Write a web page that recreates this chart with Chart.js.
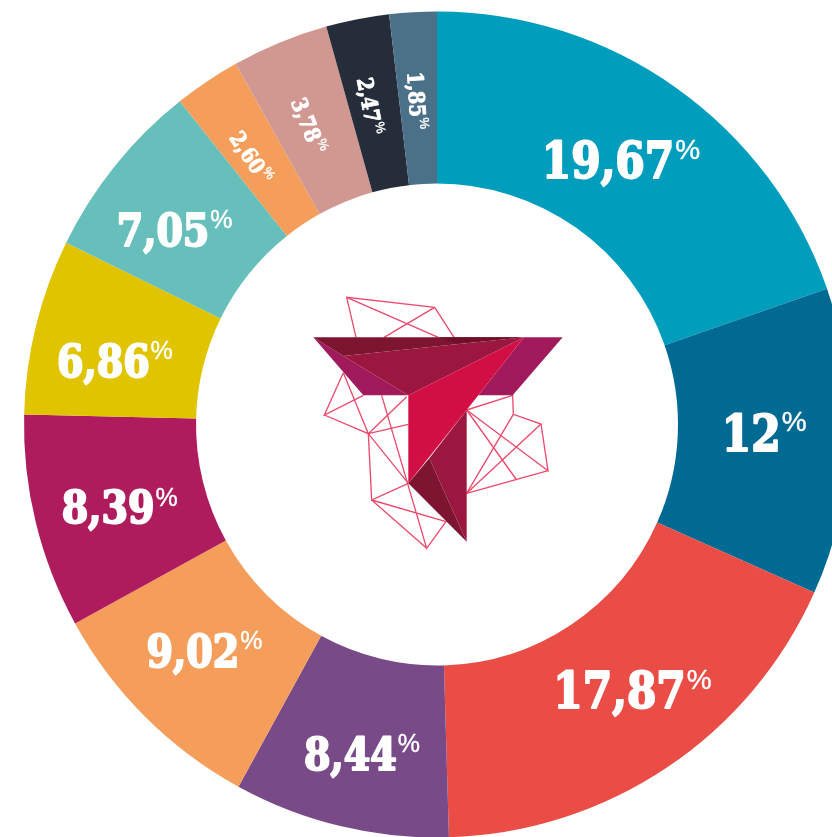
<!DOCTYPE html>
<html>
<head>
<meta charset="utf-8">
<title>Donut</title>
<script src="https://cdn.jsdelivr.net/npm/chart.js@4"></script>
<style>
  html, body { margin: 0; padding: 0; background: #fff; width: 832px; height: 837px; overflow: hidden; }
  #wrap { position: relative; width: 832px; height: 837px; overflow: hidden; }
  #chart { position: absolute; left: 0; top: 0; }
  #logo { position: absolute; left: 300px; top: 280px; width: 280px; height: 280px; }
  #logo polyline { fill: none; stroke: #ea4a6c; stroke-width: 4; }
</style>
</head>
<body>
<div id="wrap">
  <canvas id="chart" width="874" height="849"></canvas>
  <svg id="logo" viewBox="0 0 840 840">
    <polyline points="168,172 140,52 404,82 462,172"/>
    <polyline points="140,52 415,172"/>
    <polyline points="404,82 252,172"/>
    <polyline points="130,278 73,405 190,346"/>
    <polyline points="73,405 205,461 130,278"/>
    <polyline points="205,461 325,433"/>
    <polyline points="205,461 320,350"/>
    <polyline points="245,346 380,805 438,725 215,660 380,805"/>
    <polyline points="325,610 205,461 215,660 325,610"/>
    <polyline points="500,390 638,346 640,403 723,432 744,572 500,390"/>
    <polyline points="744,572 500,640 723,432"/>
    <polyline points="640,403 500,640"/>
    <polyline points="500,390 650,600"/>
    <polygon fill="#a01a5c" points="672,172 788,172 638,346 535,346"/>
    <polygon fill="#a01a5c" points="40,172 190,346 325,346 130,228"/>
    <polygon fill="#7d1430" points="40,172 672,172 130,228"/>
    <polygon fill="#6f1029" points="415,172 672,172 470,190"/>
    <polygon fill="#9b173f" points="130,228 672,172 325,346"/>
    <polygon fill="#d20f45" points="672,172 325,346 325,610 500,390"/>
    <polygon fill="#7d1430" points="388,535 325,610 500,785"/>
    <polygon fill="#9b173f" points="500,390 388,535 500,785"/>
  </svg>
</div>
<script>
const categories = ['19,67', '12', '17,87', '8,44', '9,02', '8,39', '6,86', '7,05', '2,60', '3,78', '2,47', '1,85'];
const values = [19.67, 12, 17.87, 8.44, 9.02, 8.39, 6.86, 7.05, 2.60, 3.78, 2.47, 1.85];
const colors = ['#009dbd', '#006a93', '#ea4c46', '#784a87', '#f59d5a', '#ae1c5e',
                '#e0c400', '#66bfbb', '#f59d5a', '#d19892', '#252c3a', '#4b7189'];

// the labels do not sit exactly on the slice centre in the original
const labelNudgeX = [-6, 0, 13, 1, -2, 0, -5, -8, -4, -4, -4, -1];
const labelNudgeY = [2, -6, -6, 11, -5, 5, 14, 10, 4, 3, 2, 2];

// numbers with a small raised percent sign, small slices get theirs turned along the radius
const sliceLabels = {
  id: 'sliceLabels',
  afterDatasetsDraw(chart) {
    const ctx = chart.ctx;
    chart.getDatasetMeta(0).data.forEach((arc, i) => {
      const val = values[i];
      const small = val < 4;
      const size = small ? 22 : (val >= 12 ? 50 : 45);
      const squeeze = 0.94;
      const pctSize = small ? 13 : (val >= 12 ? 28 : 25);
      const pos = arc.getCenterPoint();
      const mid = (arc.startAngle + arc.endAngle) / 2;
      const numFont = `bold ${size}px "DejaVu Serif Condensed", "DejaVu Serif"`;
      const pctFont = `${pctSize}px "Liberation Sans"`;

      ctx.save();
      ctx.translate(pos.x + labelNudgeX[i], pos.y + labelNudgeY[i]);
      if (small) ctx.rotate(mid + Math.PI);
      ctx.fillStyle = '#fff';
      ctx.strokeStyle = '#fff';
      ctx.lineJoin = 'round';
      ctx.lineWidth = small ? 0.8 : 2;
      ctx.textBaseline = 'alphabetic';
      ctx.textAlign = 'left';
      ctx.font = numFont;
      const w1 = ctx.measureText(categories[i]).width * squeeze;
      ctx.font = pctFont;
      const w2 = ctx.measureText('%').width;
      const x0 = -(w1 + w2) / 2;
      const base = size * 0.365;
      const pctY = base - size * 0.729 + pctSize * 0.72 - 3;
      ctx.lineWidth = 0.4;
      ctx.fillText('%', x0 + w1 + 1, pctY);
      ctx.strokeText('%', x0 + w1 + 1, pctY);
      ctx.lineWidth = small ? 0.8 : 2;
      ctx.font = numFont;
      ctx.translate(x0, base);
      ctx.scale(squeeze, 1);
      ctx.fillText(categories[i], 0, 0);
      ctx.strokeText(categories[i], 0, 0);
      ctx.restore();
    });
  }
};

new Chart(document.getElementById('chart'), {
  type: 'doughnut',
  data: {
    labels: categories,
    datasets: [{ data: values, backgroundColor: colors, borderWidth: 0 }]
  },
  options: {
    responsive: false,
    animation: false,
    cutout: '58.35%',
    layout: { padding: 11.5 },
    plugins: { legend: { display: false }, tooltip: { enabled: false } }
  },
  plugins: [sliceLabels]
});
</script>
</body>
</html>
